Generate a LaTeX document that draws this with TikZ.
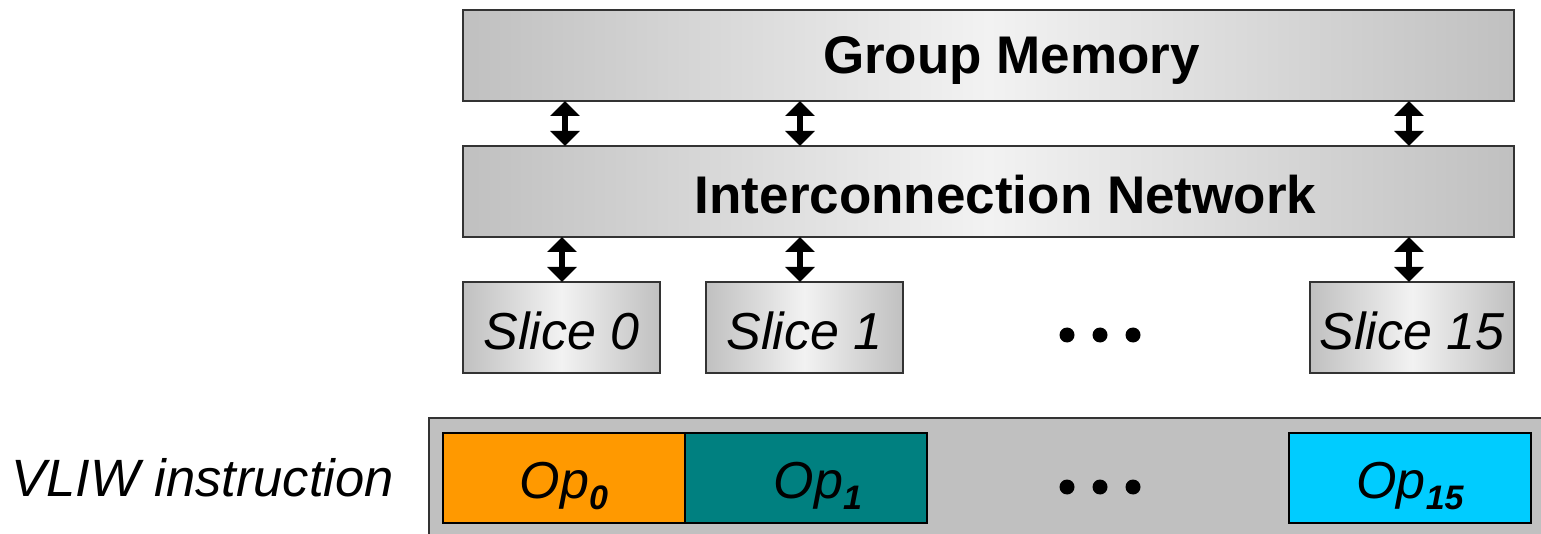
\documentclass[tikz,border=0pt]{standalone}
\usepackage{fontspec}
\setmainfont{Liberation Sans}
\usetikzlibrary{arrows.meta}
\definecolor{boxgray}{HTML}{C0C0C0}
\definecolor{boxlight}{HTML}{F2F2F2}
\definecolor{opOrange}{HTML}{FF9900}
\definecolor{opTeal}{HTML}{008080}
\definecolor{opCyan}{HTML}{00CCFF}
\definecolor{edge}{HTML}{333333}
\tikzset{
  unitbox/.style={draw=edge, line width=1.8pt, left color=boxgray, right color=boxgray,
    middle color=boxlight, inner sep=0pt, outer sep=0pt, anchor=north west},
  bigtext/.style={font=\fontsize{53}{53}\selectfont\bfseries},
  slicetext/.style={font=\fontsize{52}{52}\selectfont\itshape},
  opbox/.style={draw=black, line width=1.6pt, inner sep=0pt, outer sep=0pt,
    minimum width=242pt, minimum height=90pt, anchor=north west},
  optext/.style={font=\fontsize{52}{52}\selectfont\itshape, yshift=-8pt},
  link/.style={line width=6pt, {Triangle[width=29pt,length=15pt]}-{Triangle[width=29pt,length=15pt]}},
  dot/.style={circle, fill=black, inner sep=0pt, minimum size=15pt}
}
\newcommand{\opsub}[1]{\raisebox{-0.22em}{\fontsize{34}{34}\selectfont\bfseries #1}}
\begin{document}
\begin{tikzpicture}[x=1pt, y=-1pt]
  \useasboundingbox (0,0) rectangle (1541,534);
  \clip (0,0) rectangle (1541,534);

  % memory, network and slices
  \node[unitbox, minimum width=1051pt, minimum height=91pt] (mem) at (463,10) {};
  \node[bigtext] (memtext) at ([xshift=23pt, yshift=-5pt]mem.center) {Group Memory};
  \node[unitbox, minimum width=1051pt, minimum height=91pt] (net) at (463,146) {};
  \node[bigtext] (nettext) at ([xshift=17pt, yshift=-3pt]net.center) {Interconnection Network};
  \node[unitbox, minimum width=197pt, minimum height=91pt] (s0) at (463,282) {};
  \node[slicetext] (s0text) at ([yshift=-3pt]s0.center) {Slice 0};
  \node[unitbox, minimum width=197pt, minimum height=91pt] (s1) at (706,282) {};
  \node[slicetext] (s1text) at ([yshift=-3pt]s1.center) {Slice 1};
  \node[unitbox, minimum width=204pt, minimum height=91pt] (s15) at (1310,282) {};
  \node[slicetext] (s15text) at ([yshift=-3pt]s15.center) {Slice 15};

  % bidirectional links
  \draw[link] (mem.south -| 565,0) -- (net.north -| 565,0);
  \draw[link] (mem.south -| 800,0) -- (net.north -| 800,0);
  \draw[link] (mem.south -| 1409,0) -- (net.north -| 1409,0);
  \draw[link] (net.south -| 562,0) -- (s0.north -| 562,0);
  \draw[link] (net.south -| 800,0) -- (s1.north -| 800,0);
  \draw[link] (net.south -| 1409,0) -- (s15.north -| 1409,0);

  \node[dot] (d1) at (1067,335) {};
  \node[dot] (d2) at (1100,335) {};
  \node[dot] (d3) at (1133,335) {};

  % VLIW instruction word
  \node[anchor=base west, font=\fontsize{52.5}{52.5}\selectfont\itshape] (vliw) at (8,496) {VLIW instruction};
  \node[draw=edge, line width=1.5pt, fill=boxgray, minimum width=1200pt, minimum height=200pt,
        inner sep=0pt, anchor=north west] (word) at (428,417) {};
  \node[opbox, fill=opOrange] (op0) at (443,433) {};
  \node[optext] (op0text) at (op0.center) {Op\opsub{0}};
  \node[opbox, fill=opTeal] (op1) at (685,433) {};
  \node[optext] (op1text) at ([xshift=12pt]op1.center) {Op\opsub{1}};
  \node[opbox, fill=opCyan] (op15) at (1289,433) {};
  \node[optext] (op15text) at (op15.center) {Op\opsub{15}};

  \node[dot] (e1) at (1067,487) {};
  \node[dot] (e2) at (1100,487) {};
  \node[dot] (e3) at (1133,487) {};
\end{tikzpicture}
\end{document}
